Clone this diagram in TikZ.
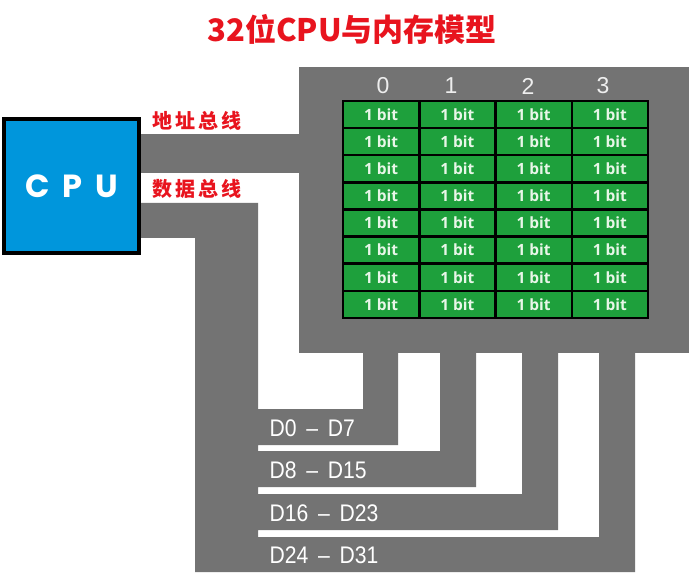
\documentclass[tikz,border=0pt]{standalone}
\usepackage{fontspec}
\setmainfont{Liberation Sans}
\newfontfamily\cjk{Noto Sans CJK SC}
\newfontfamily\poppins{Poppins}
\newfontfamily\cellfont{Open Sans}
\newfontfamily\narrowfont{Liberation Sans}[FakeStretch=0.88]

\definecolor{busgray}{RGB}{115,115,115}
\definecolor{cellgreen}{RGB}{30,160,60}
\definecolor{cellwhite}{RGB}{232,246,232}
\definecolor{cpublue}{RGB}{0,150,220}
\definecolor{titlered}{RGB}{232,20,30}
\definecolor{labelwhite}{RGB}{238,238,238}

\begin{document}
\begin{tikzpicture}[x=1pt,y=-1pt,
    bus/.style={fill=busgray},
    cell/.style={draw=black,line width=2.5pt,fill=cellgreen,minimum width=76.25pt,minimum height=27.125pt,inner sep=0pt,text=cellwhite,font=\cellfont\bfseries\fontsize{15.5}{15.5}\selectfont},
    collabel/.style={text=labelwhite,font=\fontsize{23}{23}\selectfont},
    datalabel/.style={anchor=west,text=white,font=\narrowfont\fontsize{24}{24}\selectfont},
    buslabel/.style={text=titlered,font=\cjk\bfseries\fontsize{20}{20}\selectfont}]
\useasboundingbox[fill=white] (0,0) rectangle (697,575);
% title
\node[text=titlered,font=\cjk\bfseries\fontsize{31}{31}\selectfont] (title) at (352,29) {32位CPU与内存模型};
% memory block and buses
\fill[bus] (299,67) rectangle (689,353);
\fill[bus] (140,134) rectangle (300,173);
\fill[bus] (140,203) -- (258,203) -- (258,409) -- (363,409) -- (363,352) -- (398,352) -- (398,445) -- (258,445)
  -- (258,451) -- (440,451) -- (440,352) -- (476,352) -- (476,487) -- (258,487)
  -- (258,494) -- (522,494) -- (522,352) -- (558,352) -- (558,530) -- (258,530)
  -- (258,537) -- (599,537) -- (599,352) -- (635,352) -- (635,572) -- (195,572) -- (195,238) -- (140,238) -- cycle;
\node[buslabel] (addr) at (197,121) {地\hspace{3pt}址\hspace{3pt}总\hspace{3pt}线};
\node[buslabel] (data) at (197,189) {数\hspace{3pt}据\hspace{3pt}总\hspace{3pt}线};
% cpu
\node[draw=black,line width=4pt,fill=cpublue,minimum width=135pt,minimum height=134pt,text=white,
  font=\poppins\bfseries\fontsize{32}{32}\selectfont] (cpu) at (71.5,186) {C\hspace{13pt}P\hspace{13pt}U};
% memory cells
\fill[black] (342,100) rectangle (649,319);
\foreach \c in {0,...,3}
  \foreach \r in {0,...,7}
    \node[cell] (b-\r-\c) at ({343+38.125+76.25*\c},{101+13.5625+27.125*\r}) {1 bit};
\foreach \c/\x in {0/383,1/451,2/528,3/603}
  \node[collabel] (col-\c) at (\x,86) {\c};
% data lines
\node[datalabel] (d0) at (266,428) {D0 \,–\, D7};
\node[datalabel] (d1) at (266,470) {D8 \,–\, D15};
\node[datalabel] (d2) at (266,513) {D16 \,–\, D23};
\node[datalabel] (d3) at (266,555) {D24 \,–\, D31};
\end{tikzpicture}
\end{document}
